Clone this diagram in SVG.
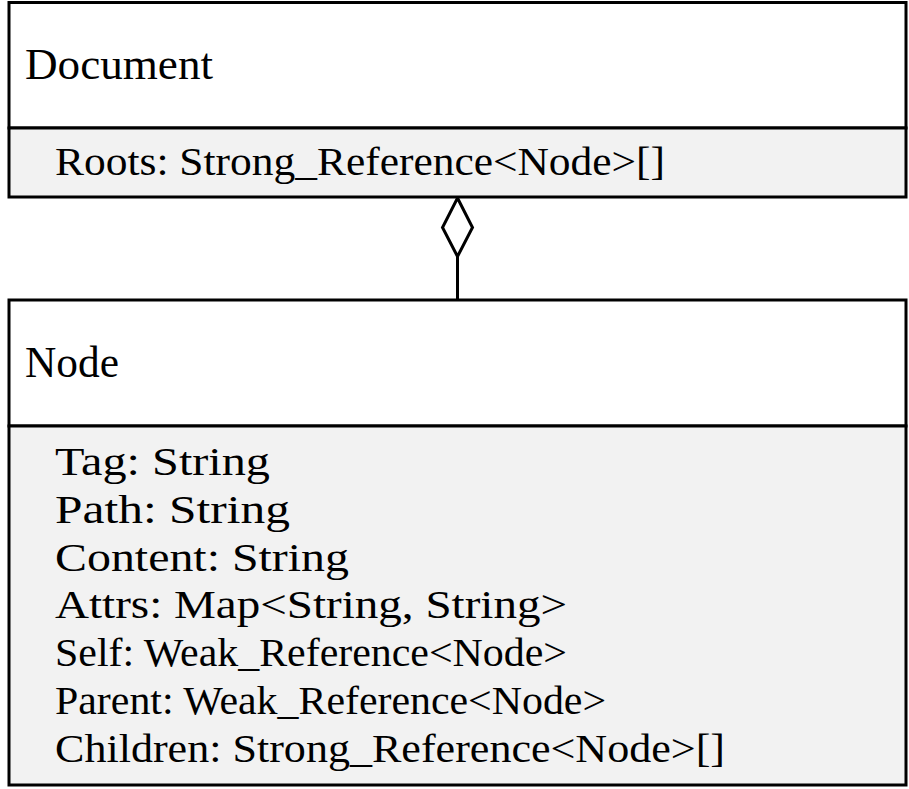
<svg xmlns="http://www.w3.org/2000/svg" width="909" height="789" viewBox="0 0 909 789">
<style>
.box{fill:#ffffff;stroke:#000;stroke-width:3}
.comp{fill:#f2f2f2;stroke:#000;stroke-width:3}
.title{font-family:"Liberation Serif",serif;font-size:45px;fill:#000}
.attr{font-family:"Liberation Serif",serif;font-size:40px;fill:#000}
.conn{fill:none;stroke:#000;stroke-width:3}
.dia{fill:#fff;stroke:#000;stroke-width:3;stroke-linejoin:miter}
</style>
<rect width="909" height="789" fill="#fff"/>
<g id="connectors">
<line class="conn" x1="457.5" y1="256" x2="457.5" y2="300"/>
<polygon class="dia" points="457.5,198 472.5,227.5 457.5,256.5 442.5,227.5"/>
</g>
<g id="document">
<rect class="box" x="9" y="2.5" width="897" height="125.5"/>
<rect class="comp" x="9" y="128" width="897" height="69"/>
<text class="title" x="25" y="79" textLength="188" lengthAdjust="spacingAndGlyphs">Document</text>
<text class="attr" x="55" y="175" textLength="610" lengthAdjust="spacingAndGlyphs">Roots: Strong_Reference&lt;Node&gt;[]</text>
</g>
<g id="node">
<rect class="box" x="9" y="300" width="897" height="126"/>
<rect class="comp" x="9" y="426" width="897" height="359"/>
<text class="title" x="25" y="377" textLength="94" lengthAdjust="spacingAndGlyphs">Node</text>
<text class="attr" x="55" y="475" textLength="215" lengthAdjust="spacingAndGlyphs">Tag: String</text>
<text class="attr" x="55" y="522.8" textLength="235" lengthAdjust="spacingAndGlyphs">Path: String</text>
<text class="attr" x="55" y="570.6" textLength="294" lengthAdjust="spacingAndGlyphs">Content: String</text>
<text class="attr" x="55" y="618.4" textLength="512" lengthAdjust="spacingAndGlyphs">Attrs: Map&lt;String, String&gt;</text>
<text class="attr" x="55" y="666.2" textLength="512" lengthAdjust="spacingAndGlyphs">Self: Weak_Reference&lt;Node&gt;</text>
<text class="attr" x="55" y="714" textLength="551" lengthAdjust="spacingAndGlyphs">Parent: Weak_Reference&lt;Node&gt;</text>
<text class="attr" x="55" y="761.8" textLength="670" lengthAdjust="spacingAndGlyphs">Children: Strong_Reference&lt;Node&gt;[]</text>
</g>
</svg>
